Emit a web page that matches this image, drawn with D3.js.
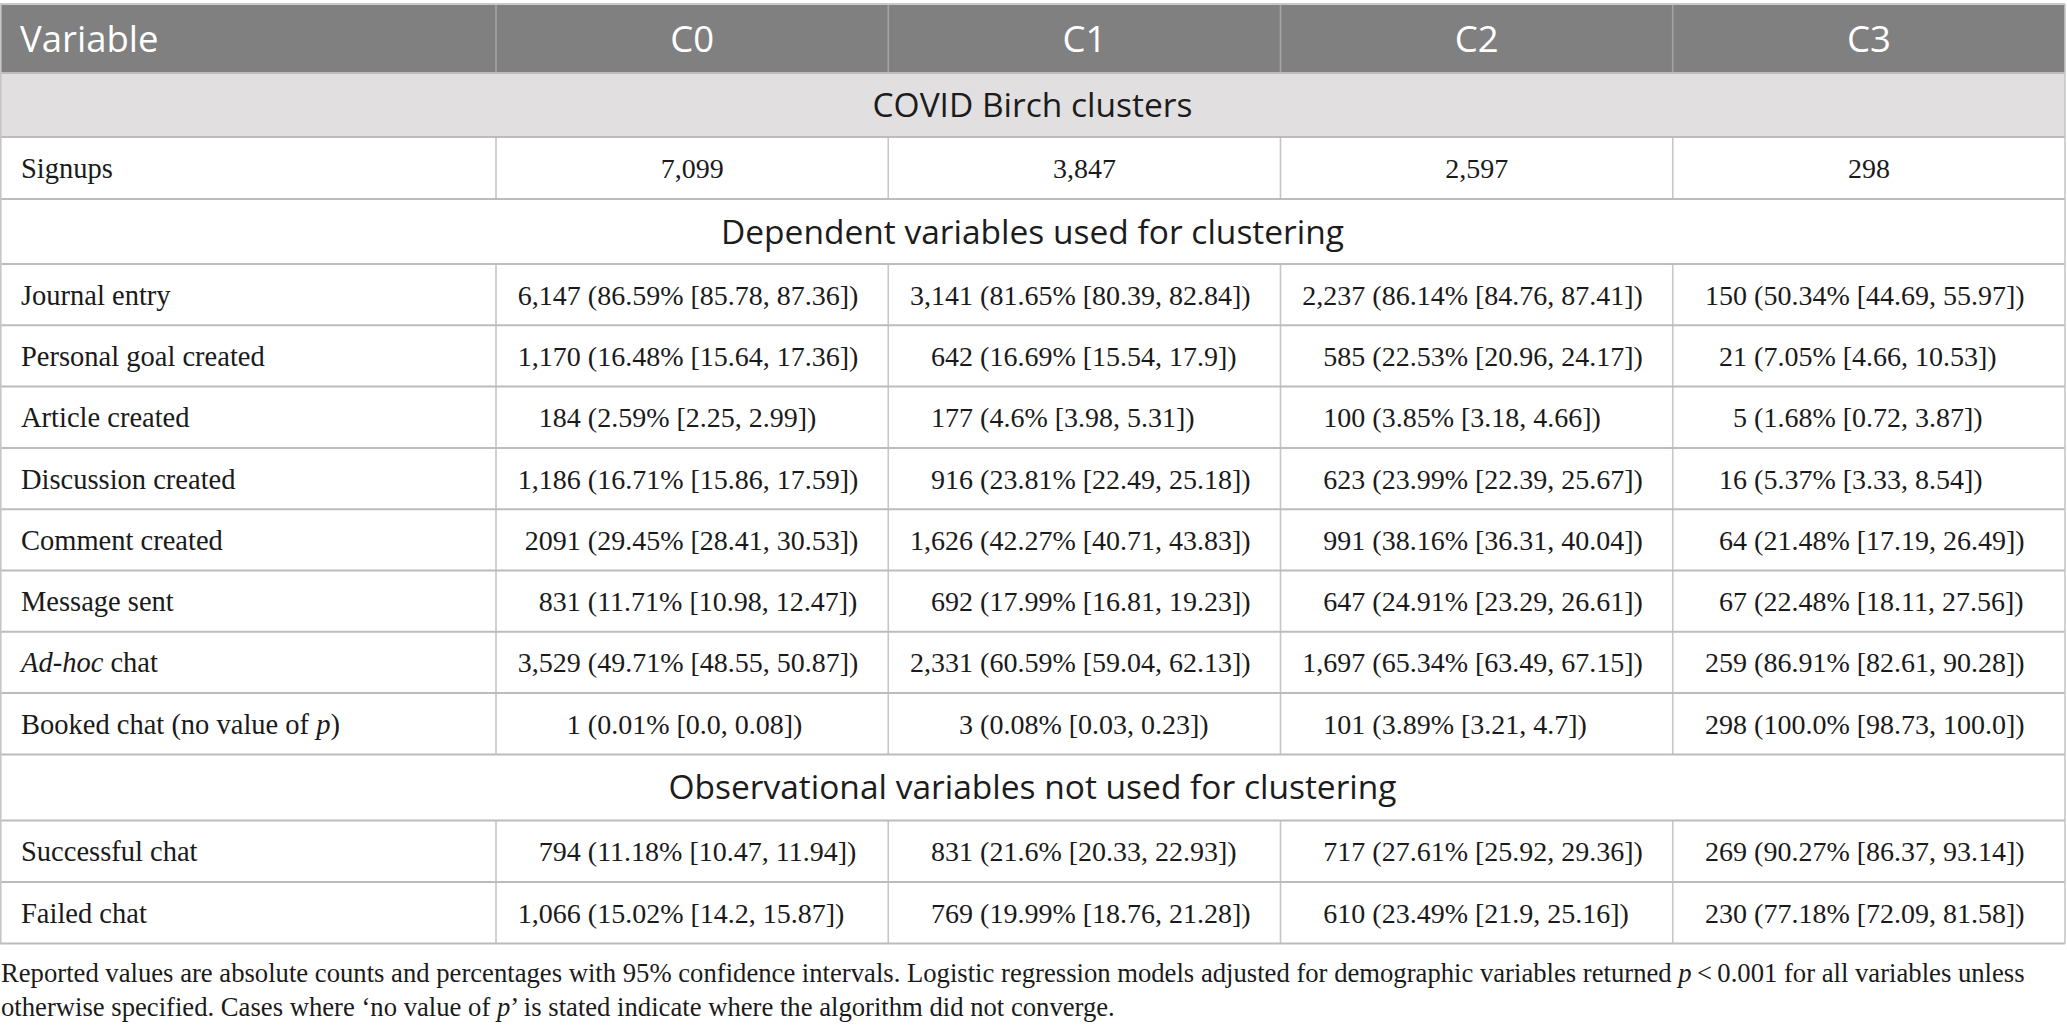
<!DOCTYPE html>
<html>
<head>
<meta charset="utf-8">
<script src="https://cdn.jsdelivr.net/npm/d3@7"></script>
<style>
  body { margin: 0; background: #fff; }
  svg { display: block; }
</style>
</head>
<body>
<div id="chart"></div>
<script>
// table content
const columns = ["Variable", "C0", "C1", "C2", "C3"];
const clusterTitle = "COVID Birch clusters";
const signupLabel = "Signups";
const signups = ["7,099", "3,847", "2,597", "298"];

const depSection = "Dependent variables used for clustering";
const depVariables = ["Journal entry", "Personal goal created", "Article created", "Discussion created",
  "Comment created", "Message sent", "Ad-hoc chat", "Booked chat (no value of p)"];
const depValues = [
  ["6,147 (86.59% [85.78, 87.36])", "3,141 (81.65% [80.39, 82.84])", "2,237 (86.14% [84.76, 87.41])", "150 (50.34% [44.69, 55.97])"],
  ["1,170 (16.48% [15.64, 17.36])", "642 (16.69% [15.54, 17.9])", "585 (22.53% [20.96, 24.17])", "21 (7.05% [4.66, 10.53])"],
  ["184 (2.59% [2.25, 2.99])", "177 (4.6% [3.98, 5.31])", "100 (3.85% [3.18, 4.66])", "5 (1.68% [0.72, 3.87])"],
  ["1,186 (16.71% [15.86, 17.59])", "916 (23.81% [22.49, 25.18])", "623 (23.99% [22.39, 25.67])", "16 (5.37% [3.33, 8.54])"],
  ["2091 (29.45% [28.41, 30.53])", "1,626 (42.27% [40.71, 43.83])", "991 (38.16% [36.31, 40.04])", "64 (21.48% [17.19, 26.49])"],
  ["831 (11.71% [10.98, 12.47])", "692 (17.99% [16.81, 19.23])", "647 (24.91% [23.29, 26.61])", "67 (22.48% [18.11, 27.56])"],
  ["3,529 (49.71% [48.55, 50.87])", "2,331 (60.59% [59.04, 62.13])", "1,697 (65.34% [63.49, 67.15])", "259 (86.91% [82.61, 90.28])"],
  ["1 (0.01% [0.0, 0.08])", "3 (0.08% [0.03, 0.23])", "101 (3.89% [3.21, 4.7])", "298 (100.0% [98.73, 100.0])"]
];

const obsSection = "Observational variables not used for clustering";
const obsVariables = ["Successful chat", "Failed chat"];
const obsValues = [
  ["794 (11.18% [10.47, 11.94])", "831 (21.6% [20.33, 22.93])", "717 (27.61% [25.92, 29.36])", "269 (90.27% [86.37, 93.14])"],
  ["1,066 (15.02% [14.2, 15.87])", "769 (19.99% [18.76, 21.28])", "610 (23.49% [21.9, 25.16])", "230 (77.18% [72.09, 81.58])"]
];

const footnote1 = ["Reported values are absolute counts and percentages with 95% confidence intervals. Logistic regression models adjusted for demographic variables returned ", "p", "\u2009<\u20090.001 for all variables unless"];
const footnote2 = ["otherwise specified. Cases where \u2018no value of ", "p", "\u2019 is stated indicate where the algorithm did not converge."];

const width = 2067;
const height = 1033;
const tableW = 2065;
const tableTop = 4;
const firstColW = 496;

const serif = "'Liberation Serif', 'Times New Roman', serif";
const sans = "'Open Sans', 'Noto Sans', sans-serif";

const svg = d3.select("#chart")
  .append("svg")
  .attr("width", width)
  .attr("height", height);

// column scale for the four cluster columns
const x = d3.scaleBand()
  .domain(columns.slice(1))
  .range([firstColW, tableW]);

// row list
const rows = [];
rows.push({ type: "header", h: 69 });
rows.push({ type: "group", text: clusterTitle, h: 64 });
rows.push({ type: "data", label: signupLabel, cells: signups, centered: true, h: 62 });
rows.push({ type: "section", text: depSection, h: 65 });
depVariables.forEach((v, i) => rows.push({ type: "data", label: v, cells: depValues[i], h: 61.3 }));
rows.push({ type: "section", text: obsSection, h: 66 });
obsVariables.forEach((v, i) => rows.push({ type: "data", label: v, cells: obsValues[i], h: 61.5 }));

let acc = tableTop;
rows.forEach(r => { r.y = acc; acc += r.h; });
const tableBottom = acc;

// backgrounds
svg.selectAll(".bg")
  .data(rows.filter(r => r.type === "header" || r.type === "group"))
  .enter()
  .append("rect")
  .attr("x", 0)
  .attr("y", d => d.y)
  .attr("width", tableW)
  .attr("height", d => d.h)
  .attr("fill", d => d.type === "header" ? "#7f807f" : "#e1dfe0");

// vertical lines (header + data rows)
const vLines = [];
rows.filter(r => r.type === "header" || r.type === "data").forEach(r => {
  columns.slice(1).forEach(c => vLines.push({ x: x(c), y1: r.y, y2: r.y + r.h, header: r.type === "header" }));
});
svg.selectAll(".vline")
  .data(vLines)
  .enter()
  .append("line")
  .attr("x1", d => d.x).attr("x2", d => d.x)
  .attr("y1", d => d.y1).attr("y2", d => d.y2)
  .attr("stroke", d => d.header ? "#a3a4a3" : "#c6c6c6")
  .attr("stroke-width", 1.6);

// horizontal lines
const hYs = rows.map(r => r.y).concat([tableBottom]);
svg.selectAll(".hline")
  .data(hYs)
  .enter()
  .append("line")
  .attr("x1", 0).attr("x2", tableW)
  .attr("y1", d => d).attr("y2", d => d)
  .attr("stroke", (d, i) => i === 0 ? "#c8c8c8" : "#bcbcbc")
  .attr("stroke-width", 2);

// outer sides
[0.8, tableW].forEach(xx => {
  svg.append("line")
    .attr("x1", xx).attr("x2", xx)
    .attr("y1", tableTop).attr("y2", tableBottom)
    .attr("stroke", "#c6c6c6")
    .attr("stroke-width", 1.6);
});

// header text
const header = rows[0];
svg.append("text")
  .attr("x", 20)
  .attr("y", header.y + header.h / 2 + 13.5)
  .attr("font-family", sans)
  .attr("font-size", 36.5)
  .attr("fill", "#fff")
  .text(columns[0]);
svg.selectAll(".colhead")
  .data(columns.slice(1))
  .enter()
  .append("text")
  .attr("x", d => x(d) + x.bandwidth() / 2)
  .attr("y", header.y + header.h / 2 + 13.5)
  .attr("text-anchor", "middle")
  .attr("font-family", sans)
  .attr("font-size", 36.5)
  .attr("fill", "#fff")
  .text(d => d);

// group / section titles
svg.selectAll(".title")
  .data(rows.filter(r => r.type === "group" || r.type === "section"))
  .enter()
  .append("text")
  .attr("x", tableW / 2)
  .attr("y", d => d.y + d.h / 2 + 12)
  .attr("text-anchor", "middle")
  .attr("font-family", sans)
  .attr("font-size", 33.5)
  .attr("fill", "#1c1c1c")
  .text(d => d.text);

// data labels, with italic parts
const fs = 28;
const dataRows = rows.filter(r => r.type === "data");
const labels = svg.selectAll(".label")
  .data(dataRows)
  .enter()
  .append("text")
  .attr("x", 21)
  .attr("y", d => d.y + d.h / 2 + 10)
  .attr("font-family", serif)
  .attr("font-size", 28.5)
  .attr("fill", "#1a1a1a");

labels.each(function (d) {
  const t = d3.select(this);
  if (d.label.startsWith("Ad-hoc")) {
    t.append("tspan").attr("font-style", "italic").text("Ad-hoc");
    t.append("tspan").text(d.label.slice(6));
  } else if (d.label.endsWith("of p)")) {
    t.append("tspan").text(d.label.slice(0, -2));
    t.append("tspan").attr("font-style", "italic").text("p");
    t.append("tspan").text(")");
  } else {
    t.text(d.label);
  }
});

// measure helper
const meas = svg.append("text")
  .attr("font-family", serif)
  .attr("font-size", fs)
  .attr("visibility", "hidden");
function textW(s) {
  meas.text(s);
  return meas.node().getComputedTextLength();
}
const spaceW = textW("a a") - textW("aa");

// anchor on the opening parenthesis within each column
const splitRows = dataRows.filter(r => !r.centered);
const anchors = columns.slice(1).map((c, j) => {
  const lefts = splitRows.map(r => textW(r.cells[j].split(" (")[0]));
  const rights = splitRows.map(r => textW("(" + r.cells[j].split(" (").slice(1).join(" (")));
  const maxL = d3.max(lefts) + spaceW;
  const maxR = d3.max(rights);
  return x(c) + x.bandwidth() / 2 - (maxL + maxR) / 2 + maxL - 4;
});
meas.remove();

const cellData = [];
dataRows.forEach(r => {
  r.cells.forEach((v, j) => cellData.push({ row: r, j: j, v: v }));
});

const cells = svg.selectAll(".cell")
  .data(cellData)
  .enter()
  .append("g");

cells.filter(d => d.row.centered)
  .append("text")
  .attr("x", d => x(columns[d.j + 1]) + x.bandwidth() / 2)
  .attr("y", d => d.row.y + d.row.h / 2 + 10)
  .attr("text-anchor", "middle")
  .attr("font-family", serif)
  .attr("font-size", fs)
  .attr("fill", "#1a1a1a")
  .text(d => d.v);

cells.filter(d => !d.row.centered)
  .append("text")
  .attr("x", d => anchors[d.j] - spaceW)
  .attr("y", d => d.row.y + d.row.h / 2 + 10)
  .attr("text-anchor", "end")
  .attr("font-family", serif)
  .attr("font-size", fs)
  .attr("fill", "#1a1a1a")
  .text(d => d.v.split(" (")[0]);

cells.filter(d => !d.row.centered)
  .append("text")
  .attr("x", d => anchors[d.j])
  .attr("y", d => d.row.y + d.row.h / 2 + 10)
  .attr("font-family", serif)
  .attr("font-size", fs)
  .attr("fill", "#1a1a1a")
  .text(d => "(" + d.v.split(" (").slice(1).join(" ("));

// footnote
const notes = svg.append("g").attr("class", "footnote");
[footnote1, footnote2].forEach((parts, i) => {
  const t = notes.append("text")
    .attr("x", 1)
    .attr("y", 982 + i * 34)
    .attr("font-family", serif)
    .attr("font-size", 26)
    .attr("fill", "#1a1a1a");
  parts.forEach((p, k) => {
    t.append("tspan").attr("font-style", k === 1 ? "italic" : null).text(p);
  });
});
// fit the first line to the measured width of the original
const firstLen = notes.select("text").node().getComputedTextLength();
const noteSize = 26 * 2025 / firstLen;
notes.selectAll("text").attr("font-size", noteSize);
</script>
</body>
</html>
